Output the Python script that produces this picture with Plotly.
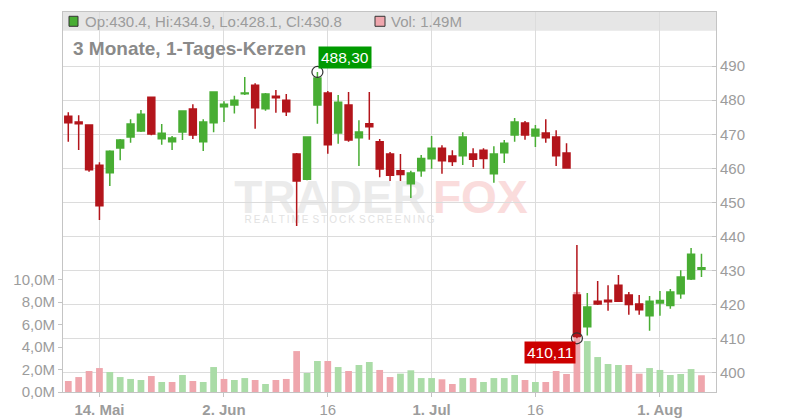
import plotly.graph_objects as go

dates = [
    "2025-05-09", "2025-05-12", "2025-05-13", "2025-05-14", "2025-05-15", "2025-05-16",
    "2025-05-19", "2025-05-20", "2025-05-21", "2025-05-22", "2025-05-23", "2025-05-27",
    "2025-05-28", "2025-05-29", "2025-05-30",
    "2025-06-02", "2025-06-03", "2025-06-04", "2025-06-05", "2025-06-06", "2025-06-09",
    "2025-06-10", "2025-06-11", "2025-06-12", "2025-06-13", "2025-06-16", "2025-06-17",
    "2025-06-18", "2025-06-20", "2025-06-23", "2025-06-24", "2025-06-25", "2025-06-26",
    "2025-06-27", "2025-06-30",
    "2025-07-01", "2025-07-02", "2025-07-03", "2025-07-07", "2025-07-08", "2025-07-09",
    "2025-07-10", "2025-07-11", "2025-07-14", "2025-07-15", "2025-07-16", "2025-07-17",
    "2025-07-18", "2025-07-21", "2025-07-22", "2025-07-23", "2025-07-24", "2025-07-25",
    "2025-07-28", "2025-07-29", "2025-07-30", "2025-07-31",
    "2025-08-01", "2025-08-04", "2025-08-05", "2025-08-06", "2025-08-07",
]

opens = [475.3, 473.6, 472.7, 460.9, 458.7, 466.0, 469.2, 471.0, 480.9, 468.7,
         467.8, 470.7, 477.4, 467.8, 473.4, 478.1, 478.6, 481.9, 484.4, 477.5,
         481.2, 480.0, 464.2, 456.8, 478.6, 482.1, 470.4, 478.6, 469.0, 473.1,
         467.8, 464.2, 459.3, 455.5, 459.3, 462.8, 465.9, 463.6, 463.7, 464.2,
         465.3, 458.4, 464.6, 469.8, 473.3, 469.5, 470.4, 469.2, 464.5, 422.8,
         413.5, 421.0, 421.3, 425.7, 422.8, 420.2, 416.7, 420.5, 419.7, 423.2,
         427.5, 430.4]
highs = [476.5, 475.6, 472.9, 461.8, 465.3, 468.6, 474.4, 477.1, 481.0, 473.0,
         469.5, 476.9, 478.8, 474.4, 482.5, 479.7, 481.3, 486.8, 485.0, 482.1,
         483.0, 481.8, 464.5, 469.3, 488.3, 482.7, 481.5, 482.4, 474.1, 482.4,
         468.6, 464.8, 464.2, 459.3, 463.9, 469.5, 466.8, 465.3, 470.6, 465.9,
         465.9, 466.5, 468.3, 474.8, 473.9, 472.7, 474.4, 471.2, 467.4, 437.5,
         423.4, 426.9, 425.7, 428.7, 423.7, 422.8, 422.5, 424.0, 424.6, 430.1,
         436.6, 434.9]
lows = [467.8, 465.4, 459.0, 444.8, 454.8, 462.4, 467.5, 470.7, 469.7, 466.9,
        465.4, 468.3, 468.6, 465.1, 470.6, 473.6, 476.1, 481.5, 471.6, 476.9,
        476.3, 475.4, 443.1, 456.5, 473.1, 464.3, 467.2, 467.8, 460.7, 468.4,
        457.4, 456.3, 456.3, 451.3, 457.5, 459.9, 458.4, 460.7, 461.0, 460.4,
        459.9, 455.8, 461.6, 467.8, 468.4, 466.3, 467.5, 460.7, 460.0, 410.11,
        410.9, 419.9, 418.2, 420.8, 417.0, 417.0, 412.3, 416.7, 418.8, 421.7,
        427.2, 428.1]
closes = [473.4, 473.1, 459.6, 449.0, 465.0, 468.3, 473.0, 475.9, 470.1, 470.3,
          468.9, 476.8, 469.8, 473.6, 482.4, 478.8, 480.0, 482.1, 477.8, 481.8,
          480.7, 476.6, 456.3, 469.2, 486.5, 466.9, 479.4, 468.3, 470.7, 472.2,
          459.8, 458.0, 458.2, 458.6, 462.9, 465.9, 462.2, 462.0, 469.2, 462.7,
          462.9, 464.2, 467.4, 473.6, 469.8, 471.5, 469.0, 463.7, 460.1, 410.6,
          419.3, 420.2, 420.8, 421.0, 420.0, 418.5, 421.0, 421.2, 423.7, 428.1,
          434.8, 430.8]
volumes_m = [0.98, 1.33, 1.87, 2.13, 1.78, 1.33, 1.16, 1.07, 1.42, 0.89,
             0.89, 1.51, 0.98, 0.89, 2.22, 1.16, 1.07, 1.24, 1.07, 0.71,
             1.07, 1.16, 3.64, 1.69, 2.76, 2.76, 2.22, 1.87, 2.40, 2.67,
             1.96, 1.33, 1.63, 1.93, 1.24, 1.24, 1.13, 0.71, 1.24, 1.24,
             0.89, 1.24, 1.24, 1.51, 1.07, 0.89, 0.89, 1.87, 1.60, 8.90,
             4.53, 3.11, 2.49, 2.40, 2.40, 1.63, 2.13, 1.96, 1.51, 1.60,
             2.04, 1.49]

tick_dates = ["2025-05-14", "2025-06-02", "2025-06-16", "2025-07-01", "2025-07-16", "2025-08-01"]
tick_labels = ["<b>14. Mai</b>", "<b>2. Jun</b>", "16", "<b>1. Jul</b>", "16", "<b>1. Aug</b>"]
price_ticks = [400, 410, 420, 430, 440, 450, 460, 470, 480, 490]
vol_ticks = [0, 2, 4, 6, 8, 10]
vol_tick_labels = ["0,0M", "2,0M", "4,0M", "6,0M", "8,0M", "10,0M"]

max_label = "488,30"
min_label = "410,11"

UP = "#48AD33"
DOWN = "#B3151B"
VUP = "#AADCA7"
VDOWN = "#EFA6AD"
GRID = "#DCDCDC"
AXIS = "#C4C4C4"
TXT = "#9C9C9C"
FONT = "Liberation Sans, Arial, sans-serif"

vol_colors = []
for i, c in enumerate(closes):
    prev = closes[i - 1] if i > 0 else opens[i]
    vol_colors.append(VUP if c > prev else VDOWN)

i_max = highs.index(max(highs))
i_min = lows.index(min(lows))

fig = go.Figure()
fig.add_trace(go.Bar(
    x=dates, y=volumes_m, marker=dict(color=vol_colors, line=dict(width=0)),
    width=0.65, yaxis="y", hoverinfo="skip", showlegend=False))
fig.add_trace(go.Candlestick(
    x=dates, open=opens, high=highs, low=lows, close=closes, yaxis="y2",
    increasing=dict(line=dict(color=UP, width=1.5), fillcolor=UP),
    decreasing=dict(line=dict(color=DOWN, width=1.5), fillcolor=DOWN),
    whiskerwidth=0, hoverinfo="skip", showlegend=False))
fig.add_trace(go.Scatter(
    x=[dates[i_max], dates[i_min]], y=[highs[i_max], lows[i_min]], yaxis="y2",
    mode="markers", marker=dict(symbol="circle-open", size=11, color="#333333",
                                line=dict(width=1.2)),
    hoverinfo="skip", showlegend=False))

def py(y):
    return (392 - y) / 380.3

def px(x):
    return (x - 63) / 653

TS = "\u2009"
sub = (TS * 2).join([TS.join(w) for w in ["REALTIME", "STOCK", "SCREENING"]])

shapes = [
    dict(type="rect", xref="paper", yref="paper", x0=0, x1=1, y0=py(30.5), y1=1,
         fillcolor="#E6E6E6", line=dict(width=0), layer="below"),
    dict(type="rect", xref="paper", yref="paper", x0=px(69), x1=px(78), y0=py(26), y1=py(16),
         fillcolor=UP, line=dict(color="#333333", width=1), layer="above"),
    dict(type="rect", xref="paper", yref="paper", x0=px(375), x1=px(385), y0=py(26), y1=py(16),
         fillcolor=VDOWN, line=dict(color="#333333", width=1), layer="above"),
    dict(type="rect", xref="paper", yref="paper", x0=px(240), x1=px(429), y0=py(210), y1=py(175),
         line=dict(width=0), layer="between",
         label=dict(text="<b>TRADER</b>", font=dict(family=FONT, size=46, color="#EBEBEB"),
                    textposition="middle right", padding=0)),
    dict(type="rect", xref="paper", yref="paper", x0=px(430), x1=px(545), y0=py(210), y1=py(175),
         line=dict(width=0), layer="between",
         label=dict(text="<b>FOX</b>", font=dict(family=FONT, size=46, color="#FADCDC"),
                    textposition="middle left", padding=0)),
    dict(type="rect", xref="paper", yref="paper", x0=px(249), x1=px(430), y0=py(224), y1=py(212),
         line=dict(width=0), layer="between",
         label=dict(text=sub, font=dict(family=FONT, size=10, color="#E2E2E2"),
                    textposition="middle center", padding=0)),
]

annotations = [
    dict(xref="paper", yref="paper", x=px(83), y=py(21), xanchor="left", yanchor="middle",
         text="Op:430.4, Hi:434.9, Lo:428.1, Cl:430.8", showarrow=False,
         font=dict(family=FONT, size=15, color=TXT)),
    dict(xref="paper", yref="paper", x=px(389), y=py(21), xanchor="left", yanchor="middle",
         text="Vol: 1.49M", showarrow=False, font=dict(family=FONT, size=15, color=TXT)),
    dict(xref="paper", yref="paper", x=px(71), y=py(48), xanchor="left", yanchor="middle",
         text="<b>3 Monate, 1-Tages-Kerzen</b>", showarrow=False,
         font=dict(family=FONT, size=19, color="#8A8A8A")),
    dict(x=dates[i_max], y=highs[i_max], yref="y2", xanchor="left", yanchor="bottom",
         xshift=1, yshift=3, text=max_label, showarrow=False, bgcolor="#009A00",
         borderpad=2, font=dict(family=FONT, size=15.5, color="white")),
    dict(x=dates[i_min], y=lows[i_min], yref="y2", xanchor="right", yanchor="top",
         xshift=-1, yshift=-3, text=min_label, showarrow=False, bgcolor="#CC0000",
         borderpad=2, font=dict(family=FONT, size=15.5, color="white")),
]

fig.update_layout(
    width=800, height=420,
    margin=dict(l=63, r=84, t=12, b=28),
    paper_bgcolor="white", plot_bgcolor="white",
    boxgap=0.33, boxgroupgap=0,
    font=dict(family=FONT, color=TXT),
    showlegend=False,
    shapes=shapes,
    annotations=annotations,
    xaxis=dict(
        type="category", range=[-0.51, 62.4], rangeslider=dict(visible=False),
        tickmode="array", tickvals=tick_dates, ticktext=tick_labels,
        showgrid=True, gridcolor=GRID, gridwidth=1,
        showline=True, linecolor=AXIS, linewidth=1, mirror=True,
        ticks="outside", ticklen=4, tickcolor=AXIS, automargin=False,
        tickfont=dict(family=FONT, size=15, color=TXT),
    ),
    yaxis=dict(
        side="left", range=[0, 33.8], tickmode="array", tickvals=vol_ticks,
        ticktext=vol_tick_labels, showgrid=False, zeroline=False,
        showline=True, linecolor=AXIS, linewidth=1, automargin=False,
        ticks="outside", ticklen=4, tickcolor=AXIS,
        tickfont=dict(family=FONT, size=15, color=TXT),
    ),
    yaxis2=dict(
        overlaying="y", side="right", range=[394.34, 505.9],
        tickmode="array", tickvals=price_ticks, automargin=False,
        showgrid=True, gridcolor=GRID, gridwidth=1, zeroline=False,
        showline=True, linecolor=AXIS, linewidth=1,
        ticks="inside", ticklen=4, tickcolor=AXIS,
        tickfont=dict(family=FONT, size=15, color=TXT),
    ),
)

fig.write_html("out.html",
               config={"displayModeBar": False},
               post_script="document.body.style.margin='0px';document.body.style.overflow='hidden';")
